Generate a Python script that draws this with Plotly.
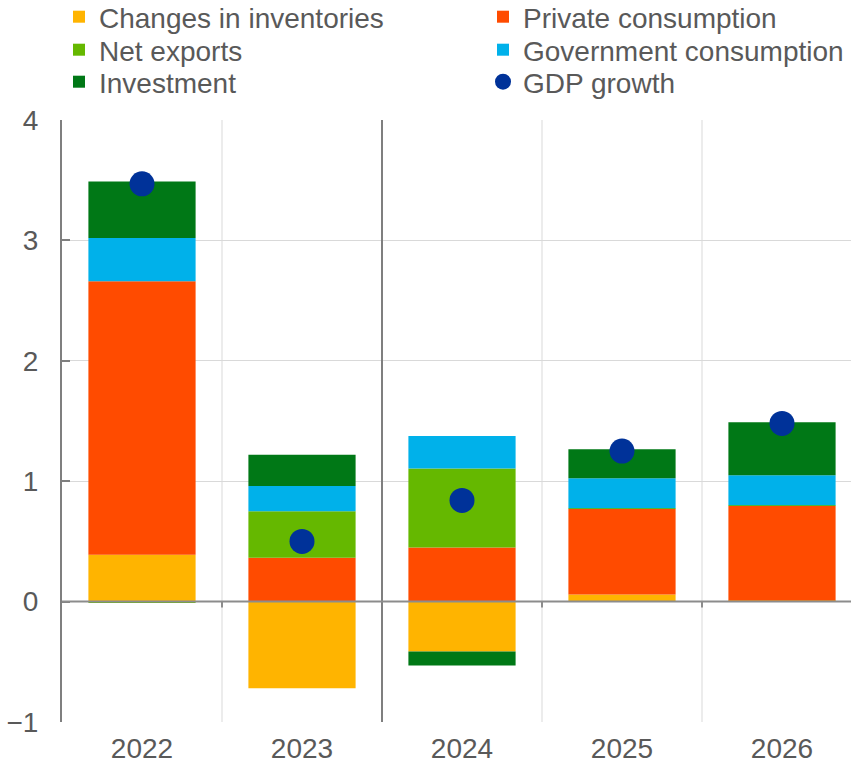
import plotly.graph_objects as go

years = ["2022", "2023", "2024", "2025", "2026"]
inventories = [0.39, -0.72, -0.415, 0.06, 0.01]
private_consumption = [2.27, 0.365, 0.45, 0.71, 0.785]
net_exports = [-0.01, 0.385, 0.655, 0.005, 0.005]
government_consumption = [0.36, 0.21, 0.27, 0.25, 0.25]
investment = [0.47, 0.26, -0.115, 0.24, 0.44]
gdp_growth = [3.47, 0.50, 0.84, 1.25, 1.48]

FONT = "Liberation Sans, Arial, sans-serif"
TXT = "#595959"
FS = 28

fig = go.Figure()
series = [
    ("Changes in inventories", inventories, "#FFB400", "legend"),
    ("Private consumption", private_consumption, "#FF4B00", "legend2"),
    ("Net exports", net_exports, "#65B800", "legend3"),
    ("Government consumption", government_consumption, "#00B1EA", "legend4"),
    ("Investment", investment, "#007816", "legend5"),
]
for name, vals, col, lg in series:
    fig.add_trace(go.Bar(x=years, y=vals, name=name, marker=dict(color=col, line=dict(width=0)),
                         width=0.67, legend=lg))
fig.add_trace(go.Scatter(x=years, y=gdp_growth, name="GDP growth", mode="markers", legend="legend6",
                         marker=dict(color="#003299", size=25, symbol="circle")))

shapes = []
for b in [0.5, 2.5, 3.5]:
    shapes.append(dict(type="line", xref="x", yref="y", x0=b, x1=b, y0=-1, y1=4,
                       line=dict(color="#D9D9D9", width=1), layer="below"))
shapes.append(dict(type="line", xref="x", yref="y", x0=1.5, x1=1.5, y0=-1, y1=4,
                   line=dict(color="#7F7F7F", width=2), layer="above"))
shapes.append(dict(type="line", xref="paper", yref="y", x0=0, x1=1, y0=0, y1=0,
                   line=dict(color="#8C8C8C", width=2), layer="above"))
# small tick marks on the zero line at category boundaries
for b in [0.5, 2.5, 3.5]:
    shapes.append(dict(type="line", xref="x", yref="y", x0=b, x1=b, y0=0, y1=-0.05,
                       line=dict(color="#8C8C8C", width=2), layer="above"))

PW, PH, L, T = 789, 602, 62, 120

def leg(px, py):
    return dict(orientation="h", x=(px - L) / PW, xanchor="left",
                y=1 + (T - py) / PH, yanchor="middle",
                font=dict(family=FONT, size=FS, color=TXT),
                itemwidth=30, bgcolor="rgba(0,0,0,0)")

c1, c2 = 59, 483
r1, r2, r3 = 17, 50, 82

fig.update_layout(
    barmode="relative",
    width=851, height=768,
    margin=dict(l=L, r=0, t=T, b=46, autoexpand=False),
    paper_bgcolor="white", plot_bgcolor="white",
    font=dict(family=FONT, size=FS, color=TXT),
    showlegend=True,
    legend=leg(c1, r1), legend2=leg(c2, r1),
    legend3=leg(c1, r2), legend4=leg(c2, r2),
    legend5=leg(c1, r3), legend6=leg(c2, r3),
    xaxis=dict(range=[-0.5, 4.43125], showgrid=False, showline=False, zeroline=False,
               ticks="", ticklabelstandoff=7,
               tickfont=dict(size=FS, color=TXT), fixedrange=True),
    yaxis=dict(range=[-1, 4], dtick=1, tick0=0, showgrid=True, gridcolor="#D9D9D9", gridwidth=1,
               zeroline=False, showline=True, linecolor="#7F7F7F", linewidth=2,
               ticks="inside", ticklen=8, tickcolor="#7F7F7F", tickwidth=2,
               ticklabelstandoff=16,
               tickfont=dict(size=FS, color=TXT)),
    shapes=shapes,
)

fig.write_html("out.html")
